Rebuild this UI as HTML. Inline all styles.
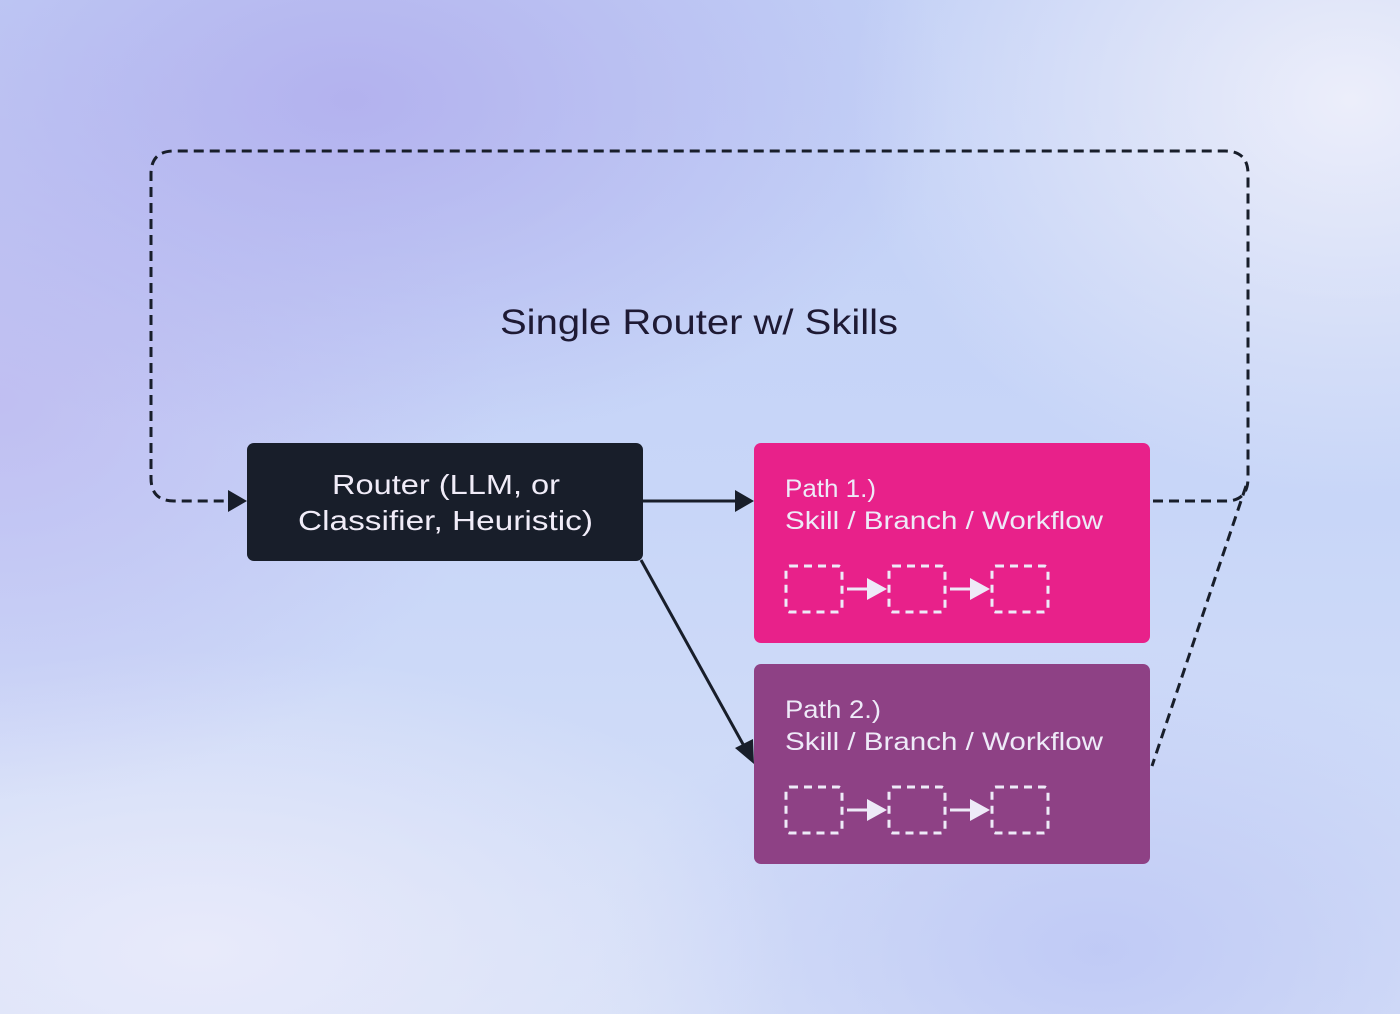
<!DOCTYPE html>
<html><head><meta charset="utf-8"><style>
html,body{margin:0;padding:0;}
body{width:1400px;height:1014px;overflow:hidden;position:relative;font-family:"Liberation Sans",sans-serif;
background:
radial-gradient(ellipse 600px 350px at 350px 100px, rgba(178,176,238,0.95), rgba(178,176,238,0) 100%),
radial-gradient(ellipse 500px 400px at 0px 400px, rgba(190,185,240,0.8), rgba(190,185,240,0) 100%),
radial-gradient(ellipse 500px 400px at 1350px 100px, rgba(236,238,250,1), rgba(236,238,250,0) 100%),
radial-gradient(ellipse 600px 300px at 200px 950px, rgba(232,234,250,1), rgba(232,234,250,0) 100%),
radial-gradient(ellipse 500px 300px at 1100px 950px, rgba(190,200,245,0.9), rgba(190,200,245,0) 100%),
linear-gradient(180deg,#c2d0f6 0%,#c8d6f8 50%,#d6e0f8 100%);}
svg{position:absolute;left:0;top:0;}
</style></head><body>
<svg width="1400" height="1014" viewBox="0 0 1400 1014">
<path d="M1153,501 L1226,501 Q1248,501 1248,478 L1248,174 Q1248,151 1225,151 L174,151 Q151,151 151,174 L151,478 Q151,501 174,501 L228,501" fill="none" stroke="#181e2a" stroke-width="3" stroke-dasharray="10,6"/>
<path d="M228,490 L247,501 L228,512 z" fill="#181e2a"/>
<path d="M1246,486 L1152,766" fill="none" stroke="#181e2a" stroke-width="3" stroke-dasharray="10,6"/>
<line x1="643" y1="501" x2="736" y2="501" stroke="#181e2a" stroke-width="3"/>
<path d="M735,490 L754,501 L735,512 z" fill="#181e2a"/>
<line x1="641" y1="560" x2="744" y2="746" stroke="#181e2a" stroke-width="3"/>
<path d="M735,748 L754,764 L753,739 z" fill="#181e2a"/>
<rect x="247" y="443" width="396" height="118" rx="7" fill="#181e2a"/>
<text x="332" y="494" textLength="228" lengthAdjust="spacingAndGlyphs" fill="#f0ecf8" font-size="28">Router (LLM, or</text>
<text x="298" y="530" textLength="295" lengthAdjust="spacingAndGlyphs" fill="#f0ecf8" font-size="28">Classifier, Heuristic)</text>
<rect x="754" y="443" width="396" height="200" rx="7" fill="#e8218a"/>
<rect x="754" y="664" width="396" height="200" rx="7" fill="#8e4185"/>
<g fill="#eeeaf8" font-size="25">
<text x="785" y="497" textLength="91" lengthAdjust="spacingAndGlyphs">Path 1.)</text>
<text x="785" y="529" textLength="318" lengthAdjust="spacingAndGlyphs">Skill / Branch / Workflow</text>
<text x="785" y="718" textLength="96" lengthAdjust="spacingAndGlyphs">Path 2.)</text>
<text x="785" y="750" textLength="318" lengthAdjust="spacingAndGlyphs">Skill / Branch / Workflow</text>
</g>
<g fill="none" stroke="#eeeaf8" stroke-width="3" stroke-dasharray="8,6">
<rect x="786" y="566" width="56" height="46" rx="4"/>
<rect x="889" y="566" width="56" height="46" rx="4"/>
<rect x="992" y="566" width="56" height="46" rx="4"/>
<rect x="786" y="787" width="56" height="46" rx="4"/>
<rect x="889" y="787" width="56" height="46" rx="4"/>
<rect x="992" y="787" width="56" height="46" rx="4"/>
</g>
<g fill="#eeeaf8" stroke="#eeeaf8" stroke-width="3">
<line x1="847" y1="589" x2="870" y2="589"/><path d="M867,578 L887,589 L867,600 z" stroke="none"/>
<line x1="950" y1="589" x2="973" y2="589"/><path d="M970,578 L990,589 L970,600 z" stroke="none"/>
<line x1="847" y1="810" x2="870" y2="810"/><path d="M867,799 L887,810 L867,821 z" stroke="none"/>
<line x1="950" y1="810" x2="973" y2="810"/><path d="M970,799 L990,810 L970,821 z" stroke="none"/>
</g>
<text x="500" y="334" textLength="398" lengthAdjust="spacingAndGlyphs" fill="#1e1a34" font-size="35">Single Router w/ Skills</text>
</svg>
</body></html>
